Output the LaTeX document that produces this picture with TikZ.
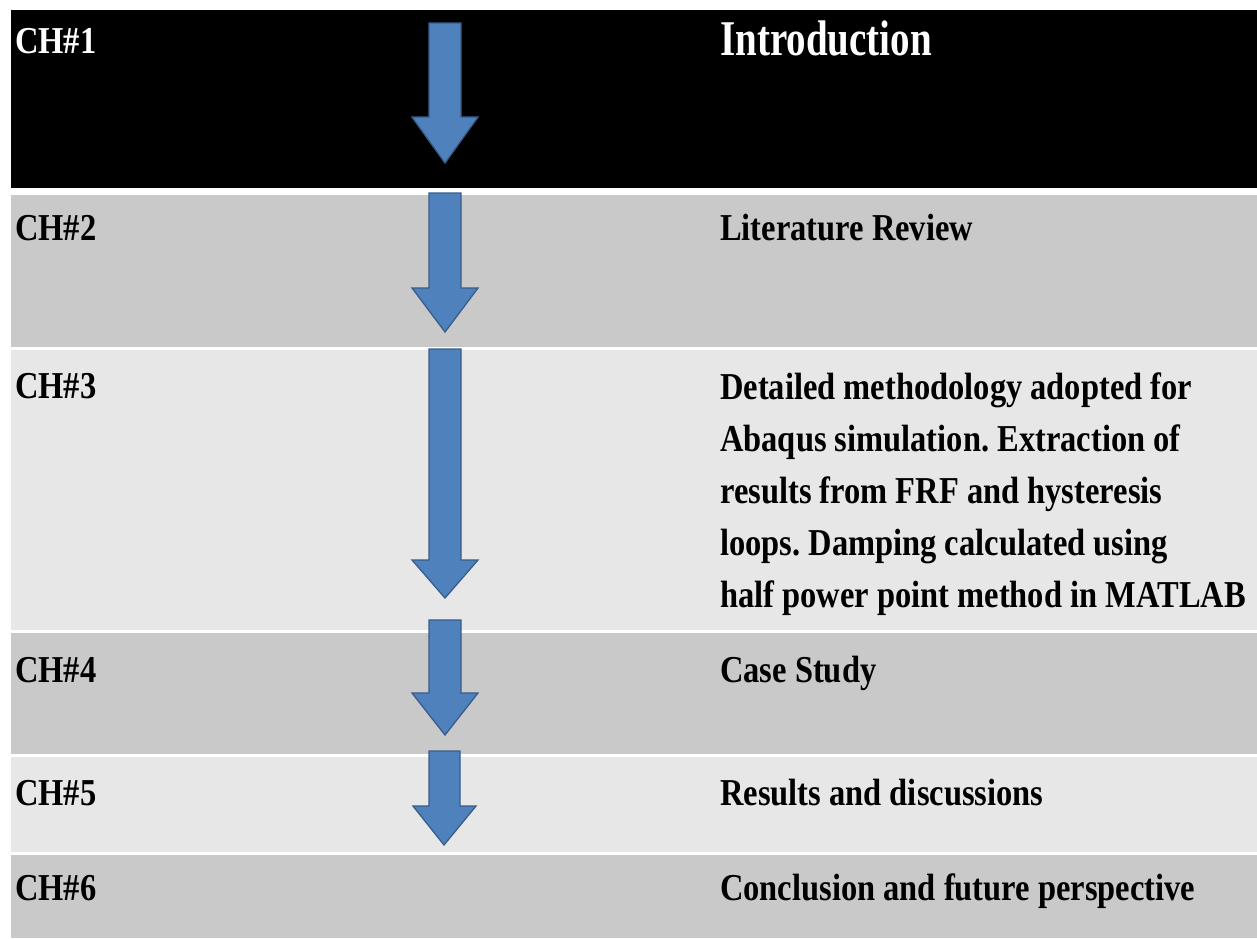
\documentclass[tikz,border=0pt]{standalone}
\usepackage{fontspec}
\setmainfont{Liberation Serif}[FakeStretch=0.855]
\newfontfamily\titlefont{Liberation Serif}[FakeStretch=0.78]
\usepackage{tikz}
\definecolor{rowdark}{RGB}{201,201,201}
\definecolor{rowlight}{RGB}{231,231,231}
\definecolor{arrowblue}{RGB}{79,129,189}
\definecolor{arrowedge}{RGB}{56,93,138}
\frenchspacing

\begin{document}
\begin{tikzpicture}[x=1pt,y=-1pt,
	chlabel/.style={anchor=base west,inner sep=0pt,font=\fontsize{38}{52}\selectfont\bfseries},
	topic/.style={anchor=base west,inner sep=0pt,font=\fontsize{38}{52}\selectfont\bfseries},
	blockarrow/.style={fill=arrowblue,draw=arrowedge,line width=1.3pt,line join=miter}]
				\useasboundingbox (0,0) rectangle (1257,938);
				% the rows
				\fill[black] (11,10) rectangle (1257,188);
				\fill[rowdark] (11,195) rectangle (1257,347);
				\fill[rowlight] (11,350) rectangle (1257,630);
				\fill[rowdark] (11,633) rectangle (1257,754);
				\fill[rowlight] (11,757) rectangle (1257,852);
				\fill[rowdark] (11,855) rectangle (1257,938);
				% chapter numbers
				\node[chlabel,text=white] (ch1) at (15,53) {CH\#1};
				\node[chlabel] (ch2) at (15,240) {CH\#2};
				\node[chlabel] (ch3) at (15,398) {CH\#3};
				\node[chlabel] (ch4) at (15,682) {CH\#4};
				\node[chlabel] (ch5) at (15,805) {CH\#5};
				\node[chlabel] (ch6) at (15,900) {CH\#6};
				% chapter contents
				\node[anchor=base west,inner sep=0pt,text=white,font=\titlefont\fontsize{50}{60}\selectfont\bfseries] (intro) at (720,55) {Introduction};
				\node[topic] (litrev) at (720,240) {Literature Review};
				\node[topic,anchor=north west,align=left] (method) at (720,373) {Detailed methodology adopted for\\Abaqus simulation. Extraction of\\results from FRF and hysteresis\\loops. Damping calculated using\\half power point method in MATLAB};
				\node[topic] (case) at (720,682) {Case Study};
				\node[topic] (results) at (720,805) {Results and discussions};
				\node[topic] (concl) at (720,900) {Conclusion and future perspective};
				% the arrows down the chapters
				\draw[blockarrow] (429,23) -- (461,23) -- (461,117) -- (478,117) -- (445,163) -- (412,117) -- (429,117) -- cycle;
				\draw[blockarrow] (429,193) -- (461,193) -- (461,288) -- (478,288) -- (445,332) -- (412,288) -- (429,288) -- cycle;
				\draw[blockarrow] (429,349) -- (461,349) -- (461,560) -- (478,560) -- (445,598) -- (412,560) -- (429,560) -- cycle;
				\draw[blockarrow] (429,620) -- (461,620) -- (461,693) -- (478,693) -- (445,735) -- (412,693) -- (429,693) -- cycle;
				\draw[blockarrow] (429,751) -- (460,751) -- (460,806) -- (476,806) -- (444,845) -- (413,806) -- (429,806) -- cycle;
\end{tikzpicture}
\end{document}
